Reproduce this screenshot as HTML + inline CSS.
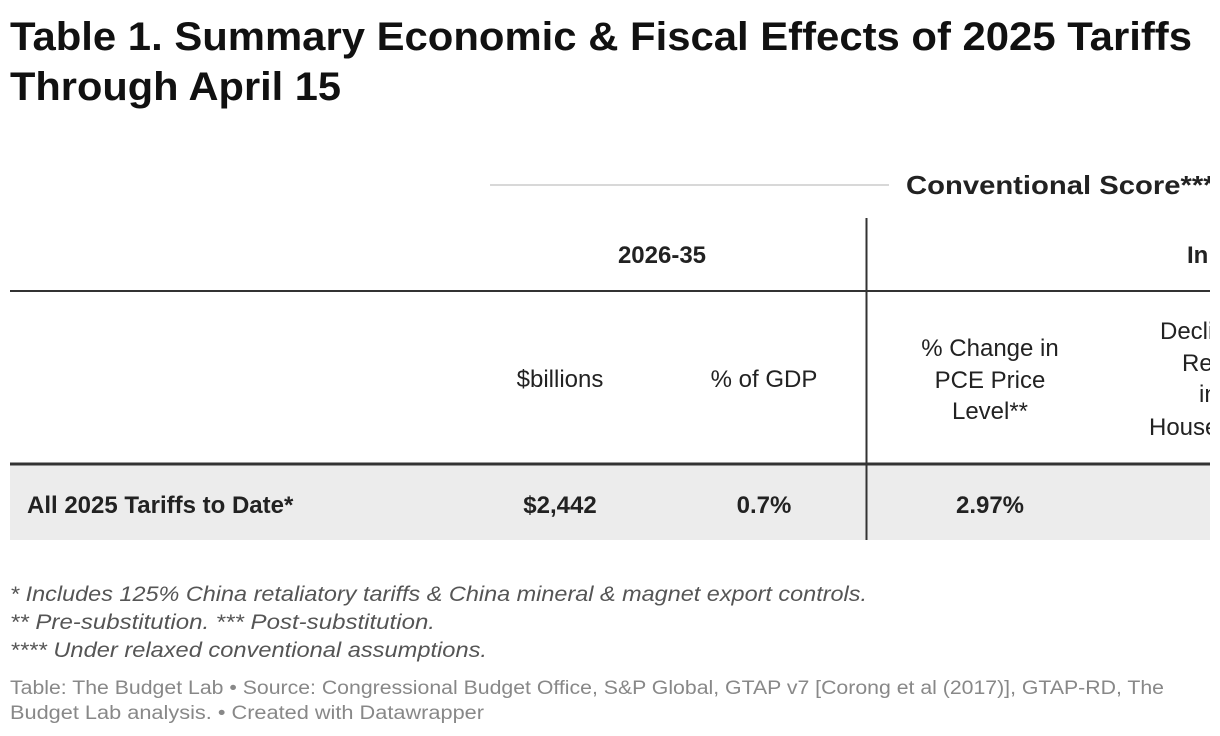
<!DOCTYPE html>
<html><head><meta charset="utf-8"><style>
html,body{margin:0;padding:0;background:#fff;width:1220px;height:736px;overflow:hidden}
svg{display:block;font-family:"Liberation Sans",Arial,sans-serif}
</style></head><body>
<svg width="1220" height="736" viewBox="0 0 1220 736">
<defs><clipPath id="c"><rect x="0" y="0" width="1210" height="736"/></clipPath></defs>
<g clip-path="url(#c)">
<text x="10" y="50" font-size="40" font-weight="bold" fill="#111" textLength="1182" lengthAdjust="spacingAndGlyphs">Table 1. Summary Economic &amp; Fiscal Effects of 2025 Tariffs</text>
<text x="10" y="100" font-size="40" font-weight="bold" fill="#111" textLength="331" lengthAdjust="spacingAndGlyphs">Through April 15</text>

<line x1="490" y1="185" x2="889" y2="185" stroke="#ccc" stroke-width="1.5"/>
<text x="906" y="194" font-size="26" font-weight="bold" fill="#222" textLength="320" lengthAdjust="spacingAndGlyphs">Conventional Score****</text>

<line x1="866.5" y1="218" x2="866.5" y2="540" stroke="#333" stroke-width="2"/>
<text x="662" y="263" font-size="24" font-weight="bold" fill="#222" text-anchor="middle">2026-35</text>
<text x="1187" y="263" font-size="24" font-weight="bold" fill="#222">In</text>
<line x1="10" y1="291" x2="1210" y2="291" stroke="#333" stroke-width="2"/>

<g font-size="24" fill="#222" text-anchor="middle">
<text x="560" y="387">$billions</text>
<text x="764" y="387">% of GDP</text>
<text x="990" y="356">% Change in</text>
<text x="990" y="388">PCE Price</text>
<text x="990" y="419">Level**</text>
</g>
<g font-size="24" fill="#222">
<text x="1160" y="339">Decline</text>
<text x="1182" y="371">Real</text>
<text x="1199" y="402">in</text>
<text x="1149" y="435">Household</text>
</g>

<rect x="10" y="465" width="1200" height="75" fill="#ececec"/>
<line x1="10" y1="464" x2="1210" y2="464" stroke="#333" stroke-width="3"/>
<line x1="866.5" y1="465" x2="866.5" y2="540" stroke="#333" stroke-width="2"/>
<g font-size="24" font-weight="bold" fill="#222">
<text x="27" y="513">All 2025 Tariffs to Date*</text>
<text x="560" y="513" text-anchor="middle">$2,442</text>
<text x="764" y="513" text-anchor="middle">0.7%</text>
<text x="990" y="513" text-anchor="middle">2.97%</text>
</g>

<g font-size="21" font-style="italic" fill="#555">
<text x="10" y="601" textLength="857" lengthAdjust="spacingAndGlyphs">* Includes 125% China retaliatory tariffs &amp; China mineral &amp; magnet export controls.</text>
<text x="10" y="629" textLength="425" lengthAdjust="spacingAndGlyphs">** Pre-substitution. *** Post-substitution.</text>
<text x="10" y="657" textLength="477" lengthAdjust="spacingAndGlyphs">**** Under relaxed conventional assumptions.</text>
</g>
<g font-size="19" fill="#888">
<text x="10" y="694" textLength="1154" lengthAdjust="spacingAndGlyphs">Table: The Budget Lab • Source: Congressional Budget Office, S&amp;P Global, GTAP v7 [Corong et al (2017)], GTAP-RD, The</text>
<text x="10" y="719" textLength="474" lengthAdjust="spacingAndGlyphs">Budget Lab analysis. • Created with Datawrapper</text>
</g>
</g>
</svg>
</body></html>
